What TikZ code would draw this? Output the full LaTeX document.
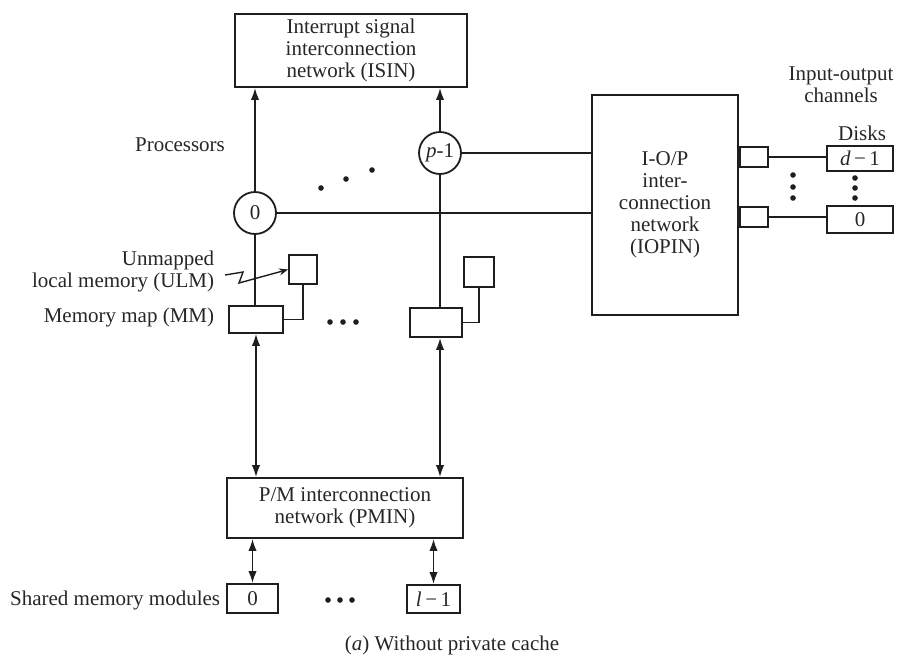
\documentclass[tikz,border=0pt]{standalone}
\usepackage{fontspec}
\setmainfont{Liberation Serif}
\usetikzlibrary{arrows.meta}
\definecolor{linecol}{HTML}{1E1E1E}
\definecolor{textcol}{HTML}{262626}

\begin{document}
\begin{tikzpicture}[x=0.5pt,y=-0.5pt,line width=0.9pt,draw=linecol,text=textcol,
	font=\fontsize{10.5}{11}\selectfont,
	>={Latex[length=6pt,width=4.2pt]},
	box/.style={draw,rectangle,inner sep=0pt,align=center},
	proc/.style={draw,circle,inner sep=0pt,minimum size=21pt},
	lbl/.style={inner sep=0pt,align=center}]
\useasboundingbox (0,0) rectangle (897,661);
\node[box,minimum width=116pt,minimum height=36.5pt] (isin) at (351,50.5) {Interrupt signal\\interconnection\\network (ISIN)};
\node[box,minimum width=73pt,minimum height=110pt] (iopin) at (665,205) {I-O/P\\inter-\\connection\\network\\(IOPIN)};
\node[box,minimum width=118pt,minimum height=30pt] (pmin) at (345,508) {P/M interconnection\\network (PMIN)};
\node[proc] (p0) at (255,213) {0};
\node[proc] (pp) at (440,153) {\textit{p}-1};
\node[box,minimum width=27pt,minimum height=13.5pt] (mm0) at (256,319.5) {};
\node[box,minimum width=26pt,minimum height=14.5pt] (mmp) at (436,322.5) {};
\node[box,minimum width=14pt,minimum height=14.5pt] (ulm0) at (303,269.5) {};
\node[box,minimum width=15pt,minimum height=15pt] (ulmp) at (479,272) {};
\node[box,minimum width=25.5pt,minimum height=14.5pt] (mem0) at (252.5,598.5) {0};
\node[box,minimum width=26.5pt,minimum height=14pt] (meml) at (433.5,599) {\textit{l}\,−\,1};
\node[box,minimum width=14pt,minimum height=10pt] (ch1) at (754,157) {};
\node[box,minimum width=14pt,minimum height=10pt] (ch0) at (754,217) {};
\node[box,minimum width=33pt,minimum height=12.5pt] (disk1) at (860,158.5) {\textit{d}\,−\,1};
\node[box,minimum width=33pt,minimum height=13.5pt] (disk0) at (860,219.5) {0};

\node[lbl] (proclbl) at (180,145) {Processors};
\node[lbl,anchor=east,align=right] (ulmlbl) at (215,271) {Unmapped\\local memory (ULM)};
\node[lbl,anchor=east] (mmlbl) at (215,317) {Memory map (MM)};
\node[lbl,anchor=east] (smmlbl) at (221,600) {Shared memory modules};
\node[lbl] (iolbl) at (841,85) {Input-output\\channels};
\node[lbl] (disklbl) at (862,133) {Disks};
\node[lbl] (caption) at (452,645) {(\textit{a}) Without private cache};

\draw[->] (p0) -- (p0 |- isin.south);
\draw[->] (pp) -- (pp |- isin.south);
\draw (p0) -- (p0 -| iopin.west);
\draw (pp) -- (pp -| iopin.west);
\draw (p0) -- (p0 |- mm0.north);
\draw (pp) -- (pp |- mmp.north);
\draw (ulm0) -- (ulm0 |- mm0.east) -- (mm0.east);
\draw (ulmp) -- (ulmp |- mmp.east) -- (mmp.east);
\draw[<->] (mm0.south) -- (mm0.south |- pmin.north);
\draw[<->] (pp |- mmp.south) -- (pp |- pmin.north);
\draw[<->] (pmin.south -| mem0) -- (mem0);
\draw[<->] (pmin.south -| meml) -- (meml);
\draw (ch1) -- (ch1 -| disk1.west);
\draw (ch0) -- (ch0 -| disk0.west);
\draw[-{Stealth[length=4.5pt,width=3.5pt]},line width=0.7pt] ([xshift=5pt,yshift=-2pt]ulmlbl.east) -- ++(18,-3) -- ++(-4,11) -- (ulm0.west);

\foreach \x/\y in {321/188,346/179,372/170,330/322,343/322,356/322,328/600,340/600,352/600,793/175,793/187,793/198,855/178,855/188,855/198}
	\fill[linecol] (\x,\y) circle (1.4pt);
\end{tikzpicture}
\end{document}
